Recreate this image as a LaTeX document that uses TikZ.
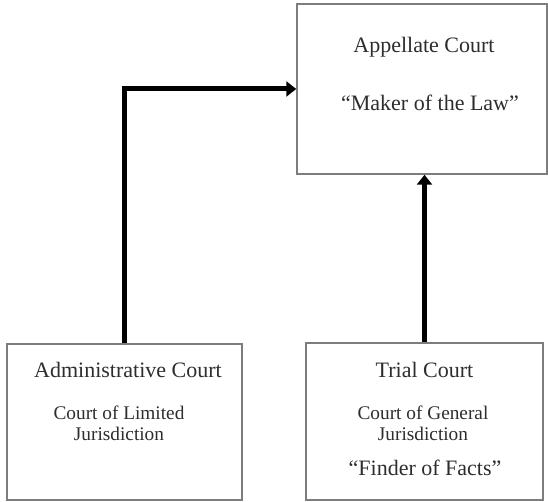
\documentclass[tikz,border=0pt]{standalone}
\usepackage{fontspec}
\setmainfont{Liberation Serif}
\usetikzlibrary{arrows.meta}
\definecolor{boxgray}{RGB}{125,125,125}
\definecolor{inkgray}{RGB}{45,45,45}
\tikzset{
  court/.style={draw=boxgray, line width=1.5pt, inner sep=0pt},
  title/.style={anchor=base, text=inkgray, font=\fontsize{22}{26}\selectfont},
  sub/.style={anchor=base, text=inkgray, font=\fontsize{19.3}{21}\selectfont},
  flow/.style={line width=5pt, -{Triangle[length=10pt,width=15pt]}}
}
\begin{document}
\begin{tikzpicture}[x=1pt,y=1pt]
\useasboundingbox (0,0) rectangle (548,502);

% boxes
\node [court, minimum width=250pt, minimum height=170pt] (appellate) at (422,413) {};
\node [court, minimum width=235pt, minimum height=156pt] (admin) at (124.5,80) {};
\node [court, minimum width=237pt, minimum height=157pt] (trial) at (424.5,80.5) {};

% texts
\node [title] (appTitle) at (424,449) {Appellate Court};
\node [title] (appRole) at (430,391) {“Maker of the Law”};

\node [title] (admTitle) at (128,124) {Administrative Court};
\node [sub] (admLineA) at (119,82) {Court of Limited};
\node [sub] (admLineB) at (119,61) {Jurisdiction};

\node [title] (triTitle) at (424.5,124) {Trial Court};
\node [sub] (triLineA) at (423,82) {Court of General};
\node [sub] (triLineB) at (423,61) {Jurisdiction};
\node [title] (triRole) at (425,26) {“Finder of Facts”};

% arrows
\draw [flow] (admin.north) |- (appellate.west);
\draw [flow] (trial.north) -- (trial.north |- appellate.south);

\end{tikzpicture}
\end{document}
